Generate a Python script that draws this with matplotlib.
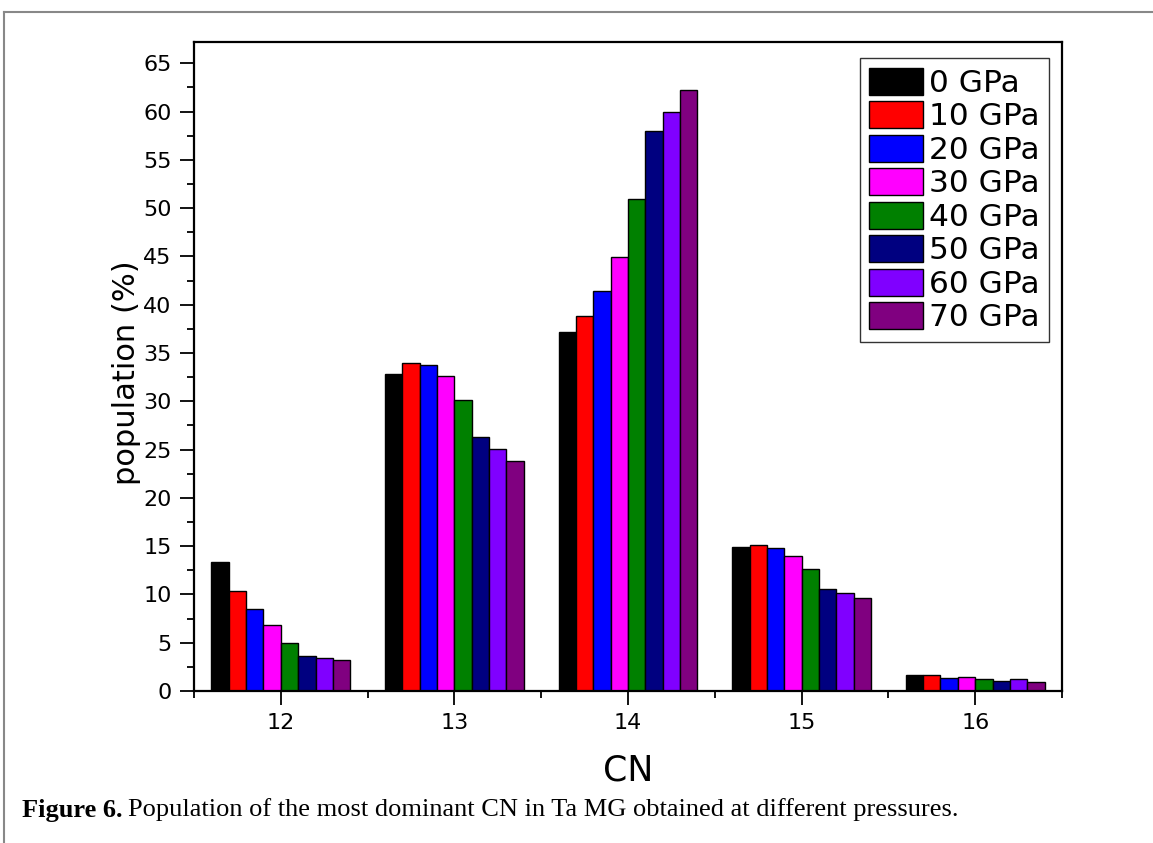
import matplotlib
matplotlib.use('Agg')
import matplotlib.pyplot as plt
from matplotlib.lines import Line2D
from matplotlib.ticker import MultipleLocator
import numpy as np

# coordination numbers and pressures
cn = [12, 13, 14, 15, 16]
pressures = ['0 GPa', '10 GPa', '20 GPa', '30 GPa', '40 GPa', '50 GPa', '60 GPa', '70 GPa']
colors = ['#000000', '#ff0000', '#0000ff', '#ff00ff', '#008000', '#000080', '#8000ff', '#800080']

# population (%) per pressure, one value per CN
pop_0 = [13.4, 32.8, 37.2, 14.9, 1.65]
pop_10 = [10.35, 34.0, 38.8, 15.1, 1.65]
pop_20 = [8.5, 33.8, 41.4, 14.8, 1.35]
pop_30 = [6.8, 32.6, 44.9, 14.0, 1.4]
pop_40 = [5.0, 30.1, 50.9, 12.6, 1.2]
pop_50 = [3.6, 26.3, 58.0, 10.6, 1.07]
pop_60 = [3.4, 25.1, 60.0, 10.1, 1.2]
pop_70 = [3.2, 23.8, 62.2, 9.6, 0.97]
series = [pop_0, pop_10, pop_20, pop_30, pop_40, pop_50, pop_60, pop_70]

plt.rcParams['font.family'] = ['DejaVu Sans']

W, H = 1153, 843
fig = plt.figure(figsize=(W / 100, H / 100), dpi=100)
ax = fig.add_axes([194 / W, 1 - 691 / H, (1062 - 194) / W, (691 - 42) / H])

width = 0.1
x = np.array(cn, dtype=float)
for i, (vals, lab, c) in enumerate(zip(series, pressures, colors)):
    ax.bar(x - 0.4 + width * (i + 0.5), vals, width, color=c, edgecolor='black',
           linewidth=1.0, label=lab)

ax.set_xlim(11.5, 16.5)
ax.set_ylim(0, 67.2)
ax.set_xticks(cn)
ax.xaxis.set_minor_locator(MultipleLocator(0.5))
ax.yaxis.set_major_locator(MultipleLocator(5))
ax.yaxis.set_minor_locator(MultipleLocator(2.5))
ax.tick_params(which='major', direction='out', length=10, width=1.3, labelsize=16, pad=6)
ax.tick_params(which='minor', direction='out', length=5, width=1.3)
for s in ax.spines.values():
    s.set_linewidth(1.6)

ax.set_ylabel('population (%)', fontsize=22)
ax.yaxis.set_label_coords(-0.061, 0.49)
ax.set_xlabel('CN', fontsize=25)
ax.xaxis.set_label_coords(0.5, -0.097)

leg = ax.legend(loc='upper right', bbox_to_anchor=(0.985, 0.975), borderaxespad=0,
                fontsize=22.5, handlelength=1.7, handleheight=0.95, handletextpad=0.2,
                labelspacing=0.105, borderpad=0.3, fancybox=False, framealpha=1)
leg.get_frame().set_edgecolor('#333333')
leg.get_frame().set_linewidth(1.0)

# outer frame of the figure panel (left and top edges)
fig.add_artist(Line2D([4 / W, 4 / W], [0, 1 - 12 / H], transform=fig.transFigure,
                      color='#888888', linewidth=1.5))
fig.add_artist(Line2D([4 / W, 1], [1 - 12 / H, 1 - 12 / H], transform=fig.transFigure,
                      color='#888888', linewidth=1.5))

# caption: bold label followed by regular text
cap_y = 1 - 810 / H
t1 = fig.text(22 / W, cap_y, 'Figure 6.', fontsize=19, fontweight='bold',
              family='Liberation Serif', va='center', ha='left')
fig.canvas.draw()
bb = t1.get_window_extent(renderer=fig.canvas.get_renderer())
fig.text((bb.x1 + 5) / W, cap_y,
         'Population of the most dominant CN in Ta MG obtained at different pressures.',
         fontsize=19, family='Liberation Serif', va='center', ha='left')

fig.savefig('out.png', dpi=100)
